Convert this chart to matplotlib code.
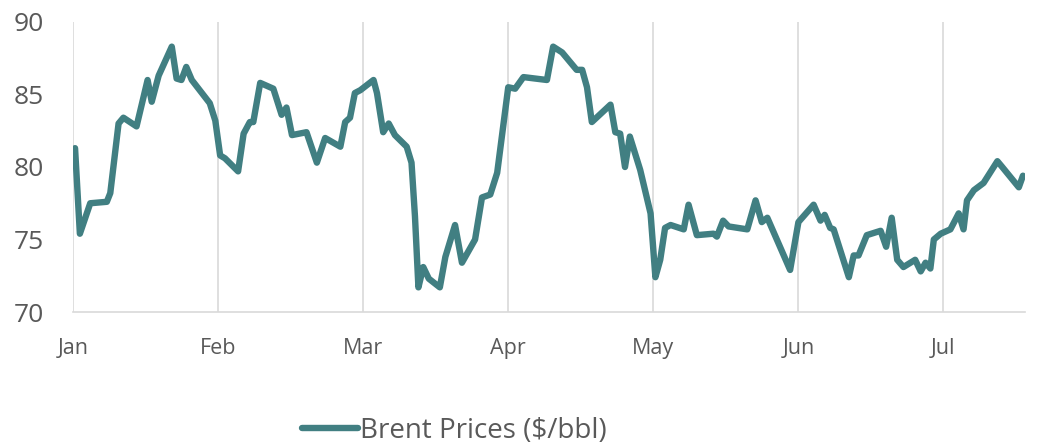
import matplotlib
matplotlib.use("Agg")
import matplotlib.pyplot as plt

# trading-day index (about 21 per month) and Brent price
day = [0.3, 1.0, 2.5, 4.9, 5.4, 6.6, 7.3, 9.2, 10.8, 11.4, 12.4, 14.3, 15.0, 15.7,
       16.4, 17.2, 19.8, 20.6, 21.3, 22.0, 23.9, 24.7, 25.6, 26.1, 27.1, 29.0,
       30.2, 30.9, 31.7, 33.8, 35.3, 36.5, 38.7, 39.4, 40.1, 40.8, 41.6, 43.5,
       44.0, 44.9, 45.7, 46.6, 48.3, 49.0, 49.5, 50.0, 50.7, 51.5, 53.1, 53.9,
       55.3, 56.3, 58.2, 59.2, 60.4, 61.4, 63.0, 64.0, 65.2, 68.6, 69.5, 70.8,
       72.9, 73.7, 74.4, 75.1, 77.8, 78.5, 79.2, 79.9, 80.6, 82.1, 83.6, 84.3,
       85.0, 85.7, 86.5, 88.4, 89.1, 90.3, 92.7, 93.2, 94.1, 94.9, 97.6, 98.8,
       99.7, 100.5, 103.8, 105.0, 107.2, 108.2, 108.8, 109.6, 110.1, 112.3,
       113.0, 113.7, 114.9, 116.9, 117.7, 118.5, 119.3, 120.2, 121.9, 122.7,
       123.4, 124.1, 124.6, 125.6, 127.0, 128.2, 128.9, 129.4, 130.4, 131.8,
       133.8, 134.5, 136.9, 137.5]
price = [81.3, 75.4, 77.5, 77.6, 78.2, 83.0, 83.4, 82.8, 86.0, 84.5, 86.3, 88.3,
         86.1, 86.0, 86.9, 86.0, 84.4, 83.2, 80.8, 80.6, 79.7, 82.3, 83.1, 83.1,
         85.8, 85.4, 83.6, 84.1, 82.2, 82.4, 80.3, 82.0, 81.4, 83.1, 83.4, 85.1,
         85.3, 86.0, 85.1, 82.4, 83.0, 82.2, 81.4, 80.3, 76.6, 71.7, 73.1, 72.3,
         71.7, 73.8, 76.0, 73.4, 75.0, 77.9, 78.1, 79.6, 85.5, 85.4, 86.2, 86.0,
         88.3, 87.9, 86.7, 86.7, 85.5, 83.1, 84.3, 82.4, 82.3, 80.0, 82.1, 79.8,
         76.8, 72.4, 73.6, 75.8, 76.0, 75.7, 77.4, 75.3, 75.4, 75.2, 76.3, 75.9,
         75.7, 77.7, 76.2, 76.5, 72.9, 76.2, 77.4, 76.3, 76.7, 75.8, 75.7, 72.4,
         73.9, 73.9, 75.3, 75.6, 74.5, 76.5, 73.6, 73.1, 73.6, 72.8, 73.4, 73.0,
         75.0, 75.4, 75.7, 76.8, 75.7, 77.7, 78.4, 78.9, 80.4, 80.0, 78.6, 79.4]

months = ["Jan", "Feb", "Mar", "Apr", "May", "Jun", "Jul"]
month_start = [0, 21, 42, 63, 84, 105, 126]
y_ticks = [70, 75, 80, 85, 90]

plt.rcParams["font.family"] = ["Open Sans", "DejaVu Sans"]

fig = plt.figure(figsize=(10.38, 4.47), dpi=100)
ax = fig.add_axes([0.0703, 0.302, 0.9172, 0.6488])

line_color = "#417f82"
grid_color = "#d9d9d9"
text_color = "#595959"

ax.plot(day, price, color=line_color, lw=4.6, solid_joinstyle="round",
        solid_capstyle="round", label="Brent Prices ($/bbl)", zorder=3)

ax.set_xlim(0, 137.8)
ax.set_ylim(70, 90)
ax.set_xticks(month_start)
ax.set_xticklabels(months)
ax.set_yticks(y_ticks)

ax.grid(axis="x", color=grid_color, lw=1.2)
for s in ["left", "right", "top"]:
    ax.spines[s].set_visible(False)
ax.spines["bottom"].set_color(grid_color)
ax.spines["bottom"].set_linewidth(1.2)

ax.tick_params(axis="y", length=0, pad=21, labelsize=19, labelcolor=text_color)
ax.tick_params(axis="x", length=0, pad=19, labelsize=15.5, labelcolor=text_color)

fig.legend(loc="center", bbox_to_anchor=(0.438, 0.036), frameon=False,
           fontsize=20, handlelength=2.0, handletextpad=0.1, labelcolor=text_color)

fig.savefig("out.png", dpi=100)
